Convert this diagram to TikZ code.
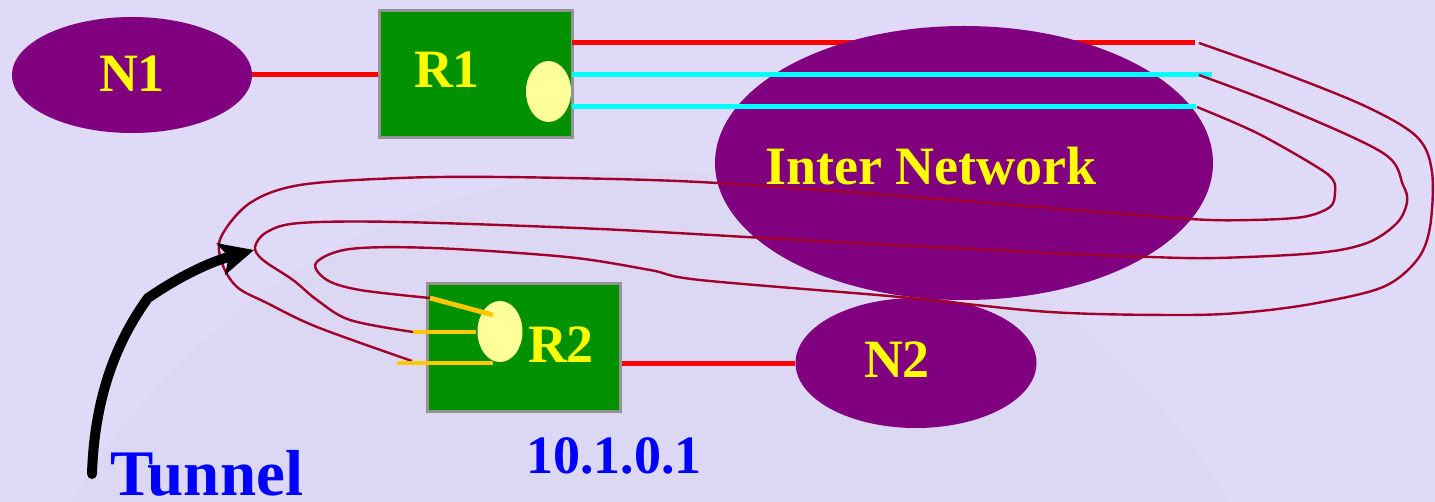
\documentclass[tikz,border=0pt]{standalone}
\usepackage{fontspec}
\setmainfont{Liberation Serif}
\usetikzlibrary{shapes.geometric,arrows.meta}
\definecolor{bgc}{HTML}{DFDAF8}
\definecolor{globec}{HTML}{DCD8F3}
\definecolor{netpurple}{HTML}{800080}
\definecolor{routergreen}{HTML}{009100}
\definecolor{ifyellow}{HTML}{FFFF99}
\definecolor{tunred}{HTML}{A0002A}
\definecolor{pinyellow}{HTML}{FFC800}
\definecolor{labblue}{HTML}{0000FF}
\definecolor{linkcyan}{HTML}{00FFFF}
\definecolor{linkred}{HTML}{FF0000}
\definecolor{labyellow}{HTML}{FFFF00}
\tikzset{
  net/.style={ellipse,fill=netpurple,inner sep=0pt},
  router/.style={rectangle,fill=routergreen,draw=gray!85,line width=1.5pt,inner sep=0pt,minimum width=96.5pt,minimum height=63.5pt},
  iface/.style={ellipse,fill=ifyellow,inner sep=0pt,minimum width=22.5pt,minimum height=30.5pt},
  lab/.style={text=labyellow,font=\bfseries\fontsize{27pt}{30pt}\selectfont,anchor=base,inner sep=0pt},
  bluelab/.style={text=labblue,font=\bfseries\fontsize{27pt}{30pt}\selectfont,anchor=base,inner sep=0pt},
  redlink/.style={draw=linkred,line width=2.5pt},
  cyanlink/.style={draw=linkcyan,line width=2.5pt},
  pin/.style={draw=pinyellow,line width=2.4pt},
  tunline/.style={draw=tunred,line width=1.2pt}
}
\begin{document}
\begin{tikzpicture}[x=0.5pt,y=-0.5pt]
\fill[bgc] (0,0) rectangle (1435,502);
\begin{scope}
\clip (0,0) rectangle (1435,502);
\fill[globec] (650,840) circle[radius=670];
\end{scope}
\useasboundingbox (0,0) rectangle (1435,502);

% networks and routers
\node[net,minimum width=120pt,minimum height=58pt] (n1) at (132,75) {};
\node[router] (r1) at (475.5,74.5) {};
\node[iface] (r1if) at (548.5,91.5) {};
\node[router] (r2) at (524,347.5) {};
\node[iface] (r2if) at (500,331.5) {};
\node[net,minimum width=120.5pt,minimum height=65pt] (n2) at (916,363) {};

% red line behind the internetwork
\coordinate (r1a) at (572,43);
\coordinate (r1ae) at (1195,43);
\draw[redlink] (r1a) -- (r1ae);

\node[net,minimum width=249pt,minimum height=137pt] (inet) at (964,163) {};

% cyan lines
\coordinate (r1b) at (572,75);
\coordinate (r1be) at (1212,75);
\coordinate (r1c) at (572,107);
\coordinate (r1ce) at (1196,107);
\draw[cyanlink] (r1b) -- (r1be);
\draw[cyanlink] (r1c) -- (r1ce);

% access links
\draw[redlink] (n1.east) -- (r1.west |- n1.east);
\draw[redlink] (n2.west -| r2.east) -- (n2.west);

% tunnel curves
\coordinate (ta) at (1199,43);
\coordinate (tb) at (1199,75);
\coordinate (tc) at (1197,107);
\coordinate (pa) at (430,298);
\coordinate (pb) at (413,332);
\coordinate (pc) at (412,361);
\draw[tunline] plot[smooth,tension=0.55] coordinates {(ta) (1283,73) (1367,107) (1417,137) (1432,172) (1430,227) (1417,260) (1383,287) (1317,303) (1250,312) (1183,315) (1050,312) (900,297) (700,280) (650,270) (567,257) (433,248) (350,249) (316,263) (327,280) (360,290) (pa)};
\draw[tunline] plot[smooth,tension=0.55] coordinates {(tb) (1283,107) (1383,153) (1403,185) (1407,202) (1397,223) (1367,243) (1317,253) (1217,258) (1150,257) (1050,253) (800,240) (600,229) (400,222) (300,223) (267,232) (255,247) (263,260) (293,280) (317,300) (350,320) (pb)};
\draw[tunline] plot[smooth,tension=0.55] coordinates {(tc) (1257,133) (1317,167) (1333,180) (1335,193) (1330,207) (1303,217) (1250,220) (1190,219) (1050,208) (900,196) (750,185) (650,180) (500,177) (400,178) (300,185) (250,203) (221,237) (222,263) (237,287) (267,303) (317,327) (pc)};

% yellow pins into R2 interface
\coordinate (pae) at (493,315);
\coordinate (pbs) at (413,332);
\coordinate (pbe) at (476,332);
\coordinate (pcs) at (397,363);
\coordinate (pce) at (493,363);
\draw[pin] (pa) -- (pae);
\draw[pin] (pbs) -- (pbe);
\draw[pin] (pcs) -- (pce);

% labels
\node[lab] (n1t) at (132,92) {N1};
\node[lab] (r1t) at (447,88) {R1};
\node[lab] (inett) at (931,185) {Inter Network};
\node[lab] (r2t) at (561,362) {R2};
\node[lab] (n2t) at (897,377) {N2};
\node[bluelab] (ipt) at (614,473) {10.1.0.1};
\node[bluelab,font=\bfseries\fontsize{32.5pt}{35pt}\selectfont,anchor=base west] (tunt) at (110,495) {Tunnel};

% tunnel arrow
\coordinate (as) at (92,474);
\coordinate (ak) at (148,298);
\coordinate (ae) at (254,250);
\draw[line width=5pt,line cap=round,-{Stealth[length=17pt,width=16pt,inset=4pt]}] (as) .. controls (94,410) and (110,350) .. (ak) .. controls (180,276) and (210,262) .. (ae);
\end{tikzpicture}
\end{document}
